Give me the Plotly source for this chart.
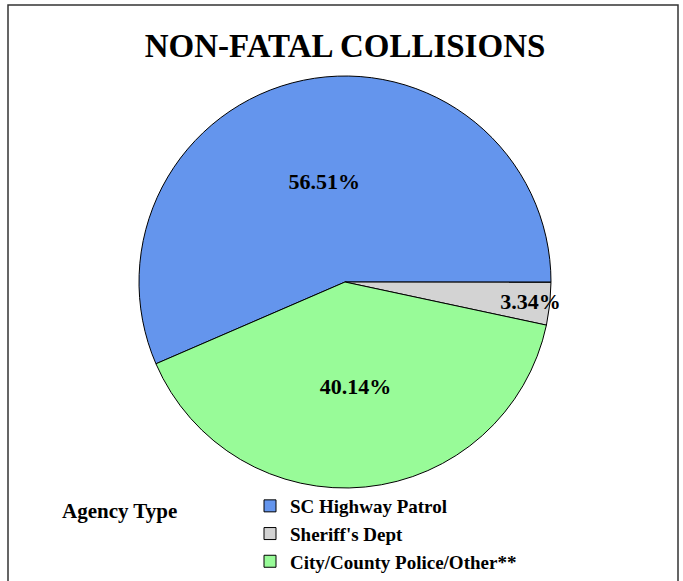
import plotly.graph_objects as go

# Non-fatal collisions share by investigating agency
agencies = ["SC Highway Patrol", "Sheriff's Dept", "City/County Police/Other**"]
shares = [56.51, 3.34, 40.14]
slice_colors = ["#6495ED", "#D3D3D3", "#98FB98"]

W, H = 683, 581
serif = "Liberation Serif, Times New Roman, serif"


def px_x(p):
    return p / W


def px_y(p):
    return 1 - p / H


fig = go.Figure(go.Pie(
    labels=agencies,
    values=shares,
    sort=False,
    direction="clockwise",
    rotation=-113.4,
    marker=dict(colors=slice_colors, line=dict(color="black", width=1)),
    texttemplate="%{value:.2f}%",
    textposition="inside",
    insidetextorientation="horizontal",
    textfont=dict(family=serif, size=22, color="black", weight="bold"),
    hoverinfo="label+value",
    domain=dict(x=[px_x(139), px_x(551)], y=[px_y(488), px_y(76)]),
))

fig.update_layout(
    width=W, height=H,
    margin=dict(l=0, r=0, t=0, b=0),
    paper_bgcolor="white",
    font=dict(family=serif, color="black"),
    title=dict(text="NON-FATAL COLLISIONS", x=px_x(345), xanchor="center",
               y=px_y(45), yanchor="middle",
               font=dict(family=serif, size=33, weight="bold", color="black")),
    uniformtext=dict(minsize=22, mode="show"),
    showlegend=True,
    legend=dict(x=px_x(250), xanchor="left", y=0, yanchor="bottom",
                font=dict(family=serif, size=19, weight="bold", color="black"),
                bgcolor="rgba(0,0,0,0)", tracegroupgap=0),
    annotations=[dict(text="Agency Type", x=px_x(60), xanchor="left",
                      y=px_y(511), yanchor="middle", xref="paper", yref="paper",
                      showarrow=False,
                      font=dict(family=serif, size=21, weight="bold", color="black"))],
    shapes=[dict(type="rect", xref="paper", yref="paper",
                 x0=px_x(8), x1=px_x(678), y0=-0.2, y1=px_y(5),
                 line=dict(color="#333333", width=1.5))],
)

# drop the browser's default body margin so the figure sits at the page corner
fig.write_html("out.html", config={"displayModeBar": False},
               post_script="document.body.style.margin = '0';")
